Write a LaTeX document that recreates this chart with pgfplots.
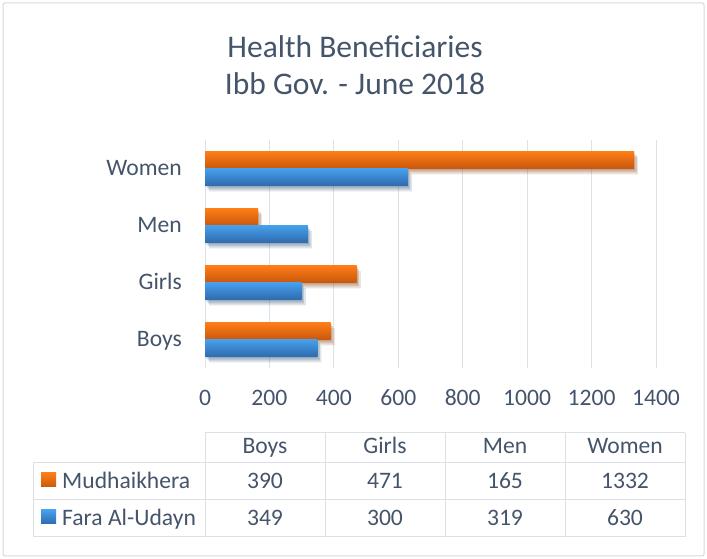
\documentclass[border=0pt]{standalone}
\usepackage{pgfplots}
\pgfplotsset{compat=1.18}
\usepackage{fontspec}
\setmainfont{Carlito}
\definecolor{txt}{HTML}{44546A}
\definecolor{gridc}{HTML}{DDE2E8}
\definecolor{tabline}{HTML}{DCE0E6}
\definecolor{borderc}{HTML}{D9D9D9}
\definecolor{orT}{HTML}{FF7D18}
\definecolor{orB}{HTML}{C9580C}
\definecolor{blT}{HTML}{47A0EC}
\definecolor{blB}{HTML}{2E6BAE}
\pgfplotsset{
 shad/.style={
  preaction={fill=black, fill opacity=0.10, transform canvas={shift={(1pt,-2pt)}}},
  preaction={fill=black, fill opacity=0.10, transform canvas={shift={(2.5pt,-4pt)}}},
  preaction={fill=black, fill opacity=0.07, transform canvas={shift={(4pt,-6pt)}}}},
 obar/.style={xbar, bar width=17pt, bar shift=8.5pt, draw=none, top color=orT, bottom color=orB, shad},
 bbar/.style={xbar, bar width=17pt, bar shift=-8.5pt, draw=none, top color=blT, bottom color=blB, shad},
}
\begin{document}
\begin{tikzpicture}[x=1pt,y=1pt]
\useasboundingbox (0,0) rectangle (707,559);
\draw[borderc, line width=1pt, rounded corners=2pt] (3,3) rectangle (704,556);
% title
\node[anchor=base, inner sep=0pt, text=txt, font=\fontsize{31.5}{36}\selectfont] at (355,501.3) {Health Beneficiaries};
\node[anchor=base, inner sep=0pt, text=txt, font=\fontsize{31.5}{36}\selectfont] at (355,464) {Ibb Gov. - June 2018};
\begin{axis}[
 at={(205pt,191pt)}, anchor=south west,
 scale only axis, width=451pt, height=228pt,
 xmin=0, xmax=1400, ymin=-0.5, ymax=3.5,
 xtick={0,200,...,1400}, ytick={0,1,2,3}, yticklabels={Boys,Girls,Men,Women},
 xmajorgrids, major grid style={gridc, line width=1pt},
 axis line style={draw=none}, major tick length=0pt,
 tick label style={font=\fontsize{23.6}{28}\selectfont, text=txt},
 /pgf/number format/assume math mode=true,
 /pgf/number format/1000 sep={},
 xticklabel style={anchor=base, inner sep=0pt, yshift=-37.5pt},
 yticklabel style={anchor=base east, inner sep=0pt, xshift=-23pt, yshift=-7.5pt},
 clip=false,
]
% Mudhaikhera (orange), one bar per plot so each bar gets its own gradient
\addplot[obar] coordinates {(390,0)};
\addplot[obar] coordinates {(471,1)};
\addplot[obar] coordinates {(165,2)};
\addplot[obar] coordinates {(1332,3)};
% Fara Al-Udayn (blue)
\addplot[bbar] coordinates {(349,0)};
\addplot[bbar] coordinates {(300,1)};
\addplot[bbar] coordinates {(319,2)};
\addplot[bbar] coordinates {(630,3)};
\end{axis}
% data table
\begin{scope}[tabline, line width=1pt]
\draw (205,126) -- (685,126);
\draw (33,96) -- (685,96);
\draw (33,59) -- (685,59);
\draw (33,22) -- (685,22);
\foreach \x in {205,325,445,565,685} \draw (\x,22) -- (\x,126);
\draw (33,22) -- (33,96);
\end{scope}
\begin{scope}[every node/.style={anchor=base, inner sep=0pt, text=txt, font=\fontsize{23.6}{28}\selectfont}]
\node at (265,105.5) {Boys};
\node at (385,105.5) {Girls};
\node at (505,105.5) {Men};
\node at (625,105.5) {Women};
\node at (265,70.5) {390};
\node at (385,70.5) {471};
\node at (505,70.5) {165};
\node at (625,70.5) {1332};
\node at (265,33.5) {349};
\node at (385,33.5) {300};
\node at (505,33.5) {319};
\node at (625,33.5) {630};
\node[anchor=base west] at (62,70.5) {Mudhaikhera};
\node[anchor=base west] at (62,33.5) {Fara Al-Udayn};
\end{scope}
\shade[top color=orT, bottom color=orB] (41,72) rectangle (56,86);
\shade[top color=blT, bottom color=blB] (41,35) rectangle (56,49);
\end{tikzpicture}
\end{document}
